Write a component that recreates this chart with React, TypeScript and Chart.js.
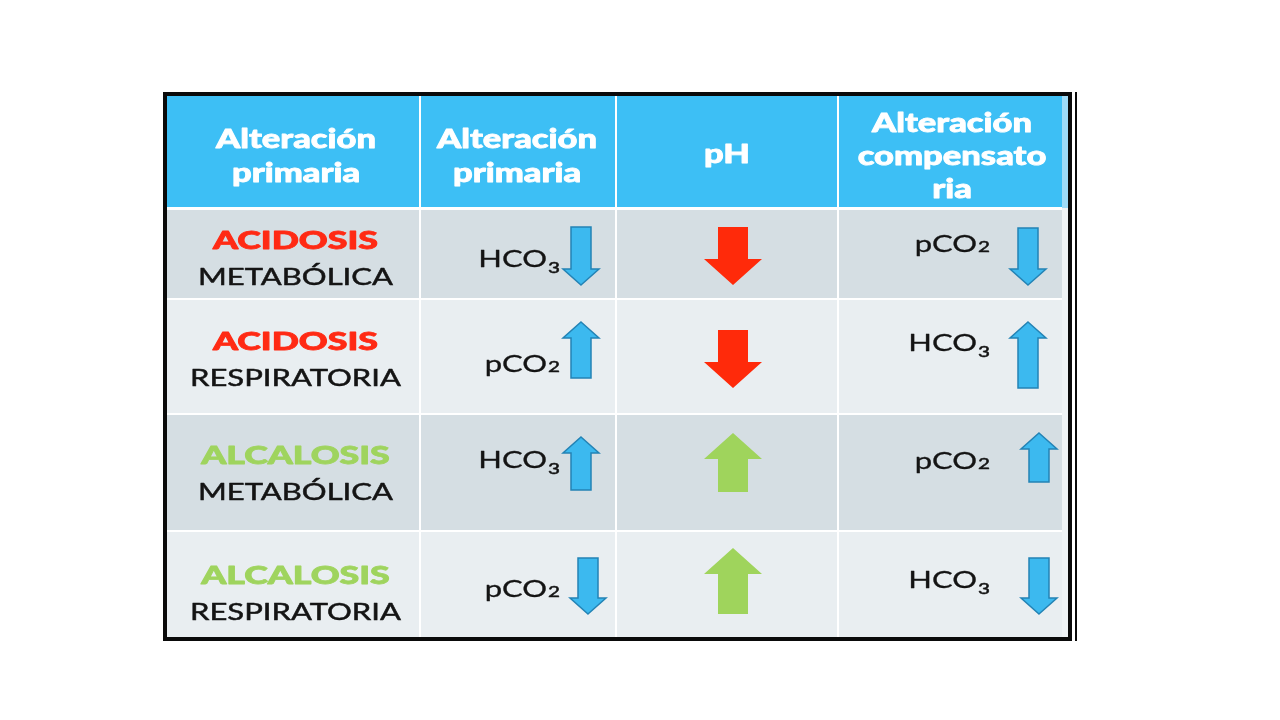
import React, { useEffect, useRef } from "react";
import { Chart, registerables } from "chart.js";

Chart.register(...registerables);

// ---------- data ----------
const headerLines: string[][] = [
  ["Alteración", "primaria"],
  ["Alteración", "primaria"],
  ["pH"],
  ["Alteración", "compensato", "ria"],
];
const disorderNames = ["ACIDOSIS", "ACIDOSIS", "ALCALOSIS", "ALCALOSIS"];
const disorderKinds = ["METABÓLICA", "RESPIRATORIA", "METABÓLICA", "RESPIRATORIA"];
const primaryVars = ["HCO3", "pCO2", "HCO3", "pCO2"];
const primaryDirs = [-1, 1, 1, -1];
const phDirs = [-1, -1, 1, 1];
const compVars = ["pCO2", "HCO3", "pCO2", "HCO3"];
const compDirs = [-1, 1, 1, -1];

// ---------- layout (table units = page pixels) ----------
const COL_EDGES = [166, 420, 616, 838, 1062];
const ROW_EDGES = [96, 208, 299, 414, 531, 637];
const HEADER_BASELINES = [[148, 182], [148, 182], [163], [132, 165, 198]];
const HEADER_CX = [296, 517, 727, 952];
const LABEL_DY = [5, 3, 1, 9.5];
const LABEL_GAP = 35.5;
const PRIM_ARROW = { dx: [-35, -35, -35, -28], dy: [2.5, -6.5, -9, 2], len: [58, 56, 53, 56] };
const PRIM_TEXT = { right: 560, dy: [5, 7, -13.5, 4] };
const PH_ARROW = { cx: 733, dy: [2.5, 2.5, -10, -3], len: [58, 58, 59, 66] };
const COMP_ARROW = { cx: [1028, 1028, 1039, 1039], dy: [3, -1.5, -15, 2], len: [57, 66, 49, 56] };
const COMP_TEXT = { right: 990, dy: [-10.5, -14.5, -12.5, -5] };

const COLORS = {
  header: "#3dbff5",
  rowDark: "#d5dee3",
  rowLight: "#e9eef1",
  stripHeader: "#9edbf7",
  stripBody: "#eff3f5",
  acid: "#ff2a14",
  alk: "#9fd45e",
  text: "#141414",
  blueFill: "#3cb9ef",
  blueStroke: "#2383b5",
  red: "#ff2a0a",
  green: "#9fd45c",
};

const HEADER_FONT = "900 27px Lato";
const BOLD_FONT = "900 24px Lato";
const REG_FONT = "24px Lato";
const SUB_FONT = "16px Lato";

function drawText(
  ctx: CanvasRenderingContext2D,
  s: string,
  x: number,
  y: number,
  font: string,
  color: string,
  align: "left" | "center" | "right",
  sx: number,
  thicken = 0
) {
  ctx.save();
  ctx.font = font;
  ctx.fillStyle = color;
  ctx.textAlign = "left";
  ctx.textBaseline = "alphabetic";
  const w = ctx.measureText(s).width * sx;
  const left = align === "center" ? x - w / 2 : align === "right" ? x - w : x;
  ctx.translate(left, y);
  ctx.scale(sx, 1);
  ctx.fillText(s, 0, 0);
  if (thicken > 0) {
    ctx.strokeStyle = color;
    ctx.lineWidth = thicken;
    ctx.lineJoin = "round";
    ctx.strokeText(s, 0, 0);
  }
  ctx.restore();
}

function drawFormula(
  ctx: CanvasRenderingContext2D,
  v: string,
  right: number,
  capCenter: number,
  sx: number
) {
  const base = v.slice(0, -1);
  const sub = v.slice(-1);
  const lowered = base === "HCO";
  ctx.save();
  ctx.font = REG_FONT;
  const wb = ctx.measureText(base).width * sx;
  ctx.font = SUB_FONT;
  const ws = ctx.measureText(sub).width * sx;
  ctx.restore();
  const baseline = capCenter + 8.6;
  const left = right - wb - ws - 1;
  drawText(ctx, base, left, baseline, REG_FONT, COLORS.text, "left", sx, 0.3);
  drawText(ctx, sub, left + wb + 1, baseline + (lowered ? 6 : 0), SUB_FONT, COLORS.text, "left", sx, 0.5);
}

function drawArrow(
  ctx: CanvasRenderingContext2D,
  cx: number,
  cy: number,
  len: number,
  dir: number,
  shaftW: number,
  headW: number,
  headLen: number,
  fill: string,
  stroke: string | null
) {
  const top = cy - len / 2;
  const bot = cy + len / 2;
  ctx.save();
  ctx.beginPath();
  if (dir > 0) {
    ctx.moveTo(cx, top);
    ctx.lineTo(cx + headW / 2, top + headLen);
    ctx.lineTo(cx + shaftW / 2, top + headLen);
    ctx.lineTo(cx + shaftW / 2, bot);
    ctx.lineTo(cx - shaftW / 2, bot);
    ctx.lineTo(cx - shaftW / 2, top + headLen);
    ctx.lineTo(cx - headW / 2, top + headLen);
  } else {
    ctx.moveTo(cx, bot);
    ctx.lineTo(cx + headW / 2, bot - headLen);
    ctx.lineTo(cx + shaftW / 2, bot - headLen);
    ctx.lineTo(cx + shaftW / 2, top);
    ctx.lineTo(cx - shaftW / 2, top);
    ctx.lineTo(cx - shaftW / 2, bot - headLen);
    ctx.lineTo(cx - headW / 2, bot - headLen);
  }
  ctx.closePath();
  ctx.fillStyle = fill;
  ctx.fill();
  if (stroke) {
    ctx.lineWidth = 1.5;
    ctx.strokeStyle = stroke;
    ctx.lineJoin = "miter";
    ctx.stroke();
  }
  ctx.restore();
}

const tablePlugin = {
  id: "acidBaseTable",
  afterDraw(chart: any) {
    const ctx: CanvasRenderingContext2D = chart.ctx;
    const xs = chart.scales.x;
    const ys = chart.scales.y;
    const X = (v: number) => xs.getPixelForValue(v);
    const Y = (v: number) => ys.getPixelForValue(v);

    // stretch factors calibrated to the reference's wide typeface
    ctx.font = HEADER_FONT;
    const sxHead = 160 / ctx.measureText("Alteración").width;
    ctx.font = BOLD_FONT;
    const sxBold = 165 / ctx.measureText("ACIDOSIS").width;
    ctx.font = REG_FONT;
    const sxReg = 195 / ctx.measureText("METABÓLICA").width;

    const left = X(COL_EDGES[0]);
    const right = X(COL_EDGES[COL_EDGES.length - 1]);

    // row backgrounds
    for (let r = 0; r < ROW_EDGES.length - 1; r++) {
      const t = Y(ROW_EDGES[r]);
      const b = Y(ROW_EDGES[r + 1]);
      ctx.fillStyle = r === 0 ? COLORS.header : r % 2 === 1 ? COLORS.rowDark : COLORS.rowLight;
      ctx.fillRect(left, t, right - left, b - t);
      ctx.fillStyle = r === 0 ? COLORS.stripHeader : COLORS.stripBody;
      ctx.fillRect(right, t, X(1068) - right, b - t);
    }
    // white grid lines
    ctx.fillStyle = "#ffffff";
    for (let c = 1; c < COL_EDGES.length - 1; c++) {
      ctx.fillRect(X(COL_EDGES[c]) - 1, Y(ROW_EDGES[0]), 2, Y(ROW_EDGES[5]) - Y(ROW_EDGES[0]));
    }
    for (let r = 1; r < ROW_EDGES.length - 1; r++) {
      const h = r === 1 ? 3 : 2;
      ctx.fillRect(left, Y(ROW_EDGES[r]) - 1, right - left, h);
    }
    // black frame
    ctx.fillStyle = "#0a0a0a";
    ctx.fillRect(X(163), Y(92), X(1072) - X(163), 4);
    ctx.fillRect(X(163), Y(637), X(1072) - X(163), 4);
    ctx.fillRect(X(163), Y(92), 4, Y(641) - Y(92));
    ctx.fillRect(X(1068), Y(92), 4, Y(641) - Y(92));
    ctx.fillRect(X(1075), Y(92), 2, Y(641) - Y(92));

    // header text
    headerLines.forEach((lines, c) => {
      lines.forEach((s, i) => {
        drawText(ctx, s, X(HEADER_CX[c]), Y(HEADER_BASELINES[c][i]), HEADER_FONT, "#ffffff", "center", sxHead, 0.8);
      });
    });

    // body rows
    for (let r = 0; r < 4; r++) {
      const cy = (ROW_EDGES[r + 1] + ROW_EDGES[r + 2]) / 2;
      // column 1 labels
      const mid = cy + LABEL_DY[r];
      const col1cx = (COL_EDGES[0] + COL_EDGES[1]) / 2 + 2.5;
      const nameColor = disorderNames[r] === "ACIDOSIS" ? COLORS.acid : COLORS.alk;
      drawText(ctx, disorderNames[r], X(col1cx), Y(mid - LABEL_GAP / 2 + 8.6), BOLD_FONT, nameColor, "center", sxBold, 0.8);
      drawText(ctx, disorderKinds[r], X(col1cx), Y(mid + LABEL_GAP / 2 + 8.6), REG_FONT, COLORS.text, "center", sxReg, 0.5);

      // column 2: primary alteration
      drawFormula(ctx, primaryVars[r], X(PRIM_TEXT.right), Y(cy + PRIM_TEXT.dy[r]), sxReg);
      drawArrow(
        ctx,
        X(COL_EDGES[2] + PRIM_ARROW.dx[r]),
        Y(cy + PRIM_ARROW.dy[r]),
        PRIM_ARROW.len[r],
        primaryDirs[r],
        20,
        36,
        16,
        COLORS.blueFill,
        COLORS.blueStroke
      );

      // column 3: pH
      drawArrow(
        ctx,
        X(PH_ARROW.cx),
        Y(cy + PH_ARROW.dy[r]),
        PH_ARROW.len[r],
        phDirs[r],
        30,
        58,
        26,
        phDirs[r] < 0 ? COLORS.red : COLORS.green,
        null
      );

      // column 4: compensation
      drawFormula(ctx, compVars[r], X(COMP_TEXT.right), Y(cy + COMP_TEXT.dy[r]), sxReg);
      drawArrow(
        ctx,
        X(COMP_ARROW.cx[r]),
        Y(cy + COMP_ARROW.dy[r]),
        COMP_ARROW.len[r],
        compDirs[r],
        20,
        36,
        16,
        COLORS.blueFill,
        COLORS.blueStroke
      );
    }
  },
};

export default function App() {
  const canvasRef = useRef<HTMLCanvasElement | null>(null);
  useEffect(() => {
    const canvas = canvasRef.current;
    if (!canvas) return;
    const chart = new Chart(canvas, {
      type: "scatter",
      data: { datasets: [] },
      options: {
        animation: false,
        responsive: false,
        events: [],
        layout: { padding: 0 },
        plugins: { legend: { display: false }, tooltip: { enabled: false } },
        scales: {
          x: { type: "linear", min: 0, max: 1280, display: false },
          y: { type: "linear", min: 0, max: 720, reverse: true, display: false },
        },
      },
      plugins: [tablePlugin],
    } as any);
    return () => chart.destroy();
  }, []);
  return (
    <div style={{ position: "absolute", left: 0, top: 0, width: 1280, height: 720, background: "#ffffff" }}>
      <canvas ref={canvasRef} width={1280} height={720} style={{ display: "block" }} />
    </div>
  );
}
